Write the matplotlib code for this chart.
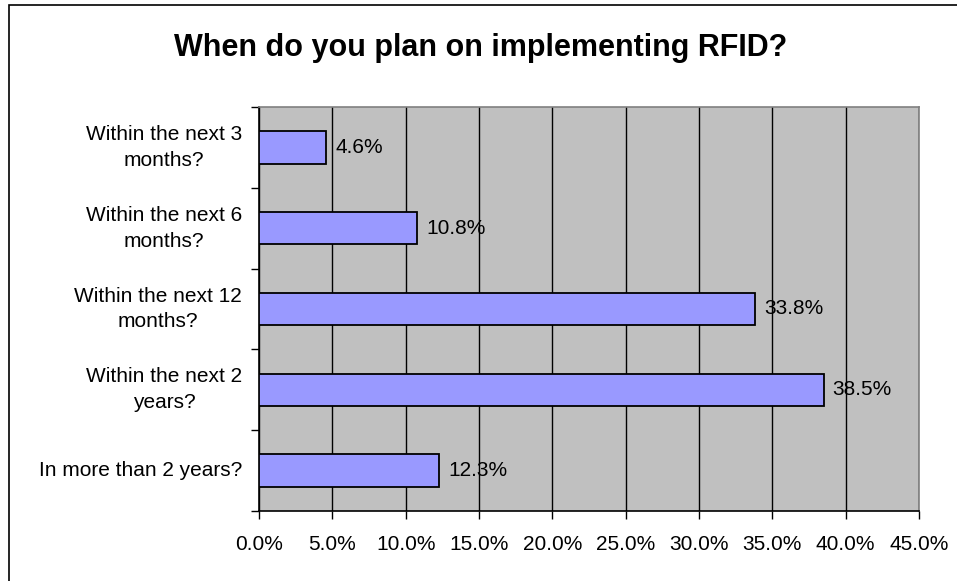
import matplotlib
matplotlib.use("Agg")
import matplotlib.pyplot as plt
from matplotlib.patches import Rectangle

categories = ["Within the next 3\nmonths?", "Within the next 6\nmonths?",
              "Within the next 12\nmonths?", "Within the next 2\nyears?",
              "In more than 2 years?"]
values = [4.6, 10.8, 33.8, 38.5, 12.3]
xticks = [0, 5, 10, 15, 20, 25, 30, 35, 40, 45]
title = "When do you plan on implementing RFID?"

plt.rcParams['font.family'] = ['Liberation Sans', 'DejaVu Sans']

W, H = 957, 581
FS = 15
fig = plt.figure(figsize=(W / 100, H / 100), dpi=100)
fig.patch.set_facecolor('white')
fig.patches.append(Rectangle((9 / W, -0.05), 1.1, 1 - 5 / H + 0.05, transform=fig.transFigure,
                             fill=False, edgecolor='black', linewidth=1.2))

ax = fig.add_axes([259 / W, 1 - 511 / H, (919 - 259) / W, (511 - 107) / H])
ax.set_facecolor('#C0C0C0')
n = len(categories)
ypos = list(range(n))
ax.barh(ypos, values, height=0.4, color='#9999FF', edgecolor='black', linewidth=1.3, zorder=3)
ax.set_xlim(0, 45)
ax.set_ylim(n - 0.5, -0.5)
ax.set_xticks(xticks)
ax.set_xticklabels([f"{v:.1f}%" for v in xticks], fontsize=FS)
ax.set_yticks([i - 0.5 for i in range(n + 1)])
ax.set_yticklabels([])
ax.tick_params(axis='y', length=6, width=1, direction='out')
ax.tick_params(axis='x', length=6, width=1, direction='out', pad=11)
for i, c in enumerate(categories):
    ax.text(-17 / 660, (n - 0.5 - i) / n, c, transform=ax.transAxes, ha='right', va='center',
            multialignment='center', fontsize=FS, linespacing=1.45)
ax.grid(axis='x', color='black', linewidth=1, zorder=1)
for v, y in zip(values, ypos):
    ax.annotate(f"{v}%", (v, y), xytext=(6.5, 0), textcoords='offset points',
                ha='left', va='center', fontsize=FS, zorder=4)
for s in ['top', 'right']:
    ax.spines[s].set_color('#808080')
    ax.spines[s].set_linewidth(1.2)
for s in ['left', 'bottom']:
    ax.spines[s].set_color('black')
    ax.spines[s].set_linewidth(1.2)

fig.text(481 / W, 1 - 48 / H, title, ha='center', va='center', fontsize=22, fontweight='bold')

fig.savefig('out.png', dpi=100)
